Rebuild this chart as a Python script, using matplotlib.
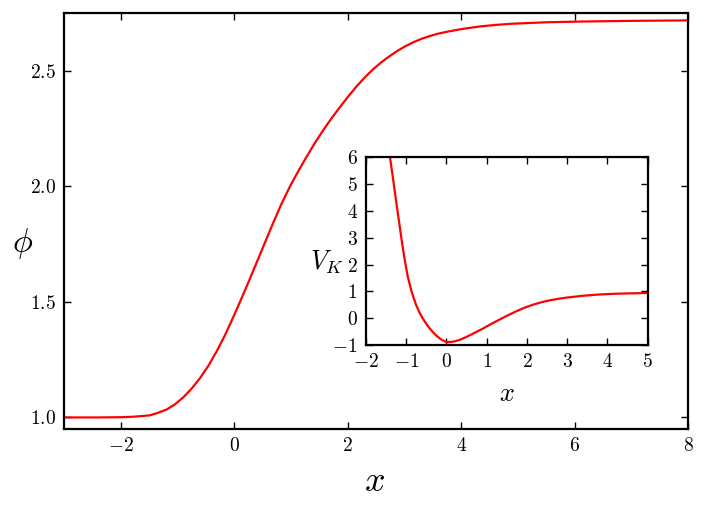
import matplotlib
matplotlib.use("Agg")
import matplotlib.pyplot as plt
from matplotlib.ticker import FuncFormatter, FixedLocator

plt.rcParams['mathtext.fontset'] = 'cm'
plt.rcParams['font.family'] = ['DejaVu Serif']

# Main curve: phi(x)
x_main = [-3.0, -2.4, -2.0, -1.784, -1.489, -1.343, -1.194, -1.048, -0.901, -0.753,
          -0.606, -0.459, -0.311, -0.164, -0.018, 0.131, 0.277, 0.484, 0.689, 0.837,
          0.984, 1.131, 1.279, 1.426, 1.572, 1.721, 1.868, 2.014, 2.163, 2.309,
          2.456, 2.590, 2.721, 2.869, 3.016, 3.163, 3.311, 3.458, 3.604, 3.753,
          4.046, 4.341, 4.636, 4.929, 5.519, 6.108, 7.0, 8.0]
phi_main = [1.000, 1.000, 1.001, 1.003, 1.009, 1.020, 1.034, 1.056, 1.086, 1.124,
            1.169, 1.222, 1.285, 1.355, 1.433, 1.516, 1.600, 1.722, 1.843, 1.926,
            2.000, 2.066, 2.129, 2.189, 2.244, 2.296, 2.344, 2.390, 2.434, 2.473,
            2.508, 2.536, 2.560, 2.585, 2.606, 2.624, 2.639, 2.651, 2.661, 2.669,
            2.682, 2.692, 2.699, 2.704, 2.710, 2.713, 2.716, 2.718]

# Inset curve: V_K(x)
x_inset = [-1.45, -1.403, -1.354, -1.296, -1.238, -1.171, -1.130, -1.089, -1.031,
           -0.964, -0.865, -0.757, -0.658, -0.550, -0.451, -0.343, -0.244, -0.136,
           -0.053, 0.030, 0.129, 0.237, 0.361, 0.486, 0.693, 0.900, 1.107, 1.314,
           1.521, 1.728, 1.935, 2.142, 2.350, 2.557, 2.764, 2.971, 3.385, 3.800,
           4.214, 4.628, 5.0]
v_inset = [6.45, 6.00, 5.47, 4.86, 4.22, 3.52, 3.08, 2.66, 2.12,
           1.56, 0.98, 0.50, 0.17, -0.10, -0.32, -0.51, -0.66, -0.79,
           -0.86, -0.888, -0.885, -0.851, -0.789, -0.705, -0.552, -0.391, -0.217,
           -0.055, 0.105, 0.253, 0.388, 0.500, 0.591, 0.664, 0.718, 0.765, 0.836,
           0.884, 0.912, 0.928, 0.940]

main_xticks = [-2, 0, 2, 4, 6, 8]
main_yticks = [1.0, 1.5, 2.0, 2.5]
inset_xticks = [-2, -1, 0, 1, 2, 3, 4, 5]
inset_yticks = [-1, 0, 1, 2, 3, 4, 5, 6]

W, H = 706, 511
fig = plt.figure(figsize=(W / 100, H / 100), dpi=100)


def rect(l, r, t, b):
    return [l / W, 1 - b / H, (r - l) / W, (b - t) / H]


ax = fig.add_axes(rect(64, 688, 13, 429))
ax.plot(x_main, phi_main, color='red', lw=1.6)
ax.set_xlim(-3, 8)
ax.set_ylim(0.95, 2.75)

ins = fig.add_axes(rect(366, 647.7, 157.3, 345))
ins.plot(x_inset, v_inset, color='red', lw=1.6)
ins.set_xlim(-2, 5)
ins.set_ylim(-1, 6)


def style(a, xt, yt, xfmt, yfmt, fs):
    a.xaxis.set_major_locator(FixedLocator(xt))
    a.yaxis.set_major_locator(FixedLocator(yt))
    a.xaxis.set_major_formatter(FuncFormatter(lambda v, p: '$' + xfmt.format(v) + '$'))
    a.yaxis.set_major_formatter(FuncFormatter(lambda v, p: '$' + yfmt.format(v) + '$'))
    a.tick_params(direction='in', top=True, right=True, length=5, width=1,
                  labelsize=fs, pad=6)
    for s in a.spines.values():
        s.set_linewidth(1.6)


style(ax, main_xticks, main_yticks, '{:.0f}', '{:.1f}', 14)
style(ins, inset_xticks, inset_yticks, '{:.0f}', '{:.0f}', 14)

ax.set_xlabel(r'$x$', fontsize=26)
ax.xaxis.set_label_coords(0.498, -0.125)
ax.xaxis.label.set_va('center')
ax.set_ylabel(r'$\phi$', fontsize=24, rotation=0)
ax.yaxis.set_label_coords(-0.067, 0.447)
ax.yaxis.label.set_va('center')
ax.yaxis.label.set_ha('center')

ins.set_xlabel(r'$x$', fontsize=19)
ins.xaxis.set_label_coords(0.5, -0.256)
ins.xaxis.label.set_va('center')
ins.set_ylabel(r'$V_K$', fontsize=19, rotation=0)
ins.yaxis.set_label_coords(-0.138, 0.442)
ins.yaxis.label.set_va('center')
ins.yaxis.label.set_ha('center')

fig.savefig('out.png', dpi=100)
